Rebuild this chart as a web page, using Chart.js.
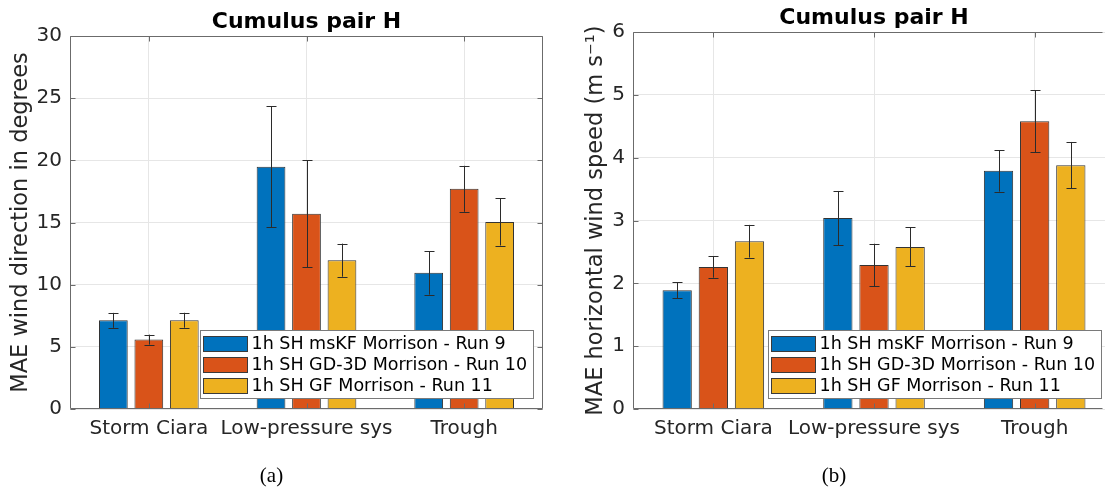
<!DOCTYPE html>
<html>
<head>
<meta charset="utf-8">
<script src="https://cdn.jsdelivr.net/npm/chart.js@4.4.1/dist/chart.umd.min.js"></script>
<style>
html,body{margin:0;padding:0;background:#fff;overflow:hidden;width:1105px;height:491px;}
#wa{position:absolute;left:0;top:0;width:554px;height:491px;}
#wb{position:absolute;left:553px;top:0;width:584px;height:491px;}
</style>
</head>
<body>
<div id="wa"><canvas id="ca"></canvas></div>
<div id="wb"><canvas id="cb"></canvas></div>
<script>
// ---- data ----
const categories = ['Storm Ciara', 'Low-pressure sys', 'Trough'];
const seriesLabels = ['1h SH msKF Morrison - Run 9', '1h SH GD-3D Morrison - Run 10', '1h SH GF Morrison - Run 11'];
const seriesColors = ['#0072BD', '#D95319', '#EDB120'];

// (a) MAE wind direction (degrees)
const dirRun9  = [7.13, 19.48, 10.95];
const dirRun10 = [5.58, 15.70, 17.71];
const dirRun11 = [7.14, 11.97, 15.05];
const dirErr9  = [0.60, 4.85, 1.75];
const dirErr10 = [0.40, 4.30, 1.85];
const dirErr11 = [0.60, 1.33, 1.90];
const dirTicks = [0, 5, 10, 15, 20, 25, 30];

// (b) MAE horizontal wind speed (m s-1)
const spdRun9  = [1.89, 3.04, 3.79];
const spdRun10 = [2.26, 2.29, 4.58];
const spdRun11 = [2.67, 2.58, 3.88];
const spdErr9  = [0.13, 0.43, 0.33];
const spdErr10 = [0.17, 0.34, 0.49];
const spdErr11 = [0.26, 0.31, 0.37];
const spdTicks = [0, 1, 2, 3, 4, 5, 6];

Chart.defaults.font.family = "'DejaVu Sans', sans-serif";

const AXIS_COLOR = '#6b6b6b';
const TEXT_COLOR = '#262626';

const errorBarPlugin = {
  id: 'errorBars',
  afterDatasetsDraw(chart) {
    const ctx = chart.ctx, ys = chart.scales.y;
    chart.data.datasets.forEach((ds, i) => {
      const meta = chart.getDatasetMeta(i);
      meta.data.forEach((bar, j) => {
        const v = ds.data[j], e = ds.errors[j];
        const yt = ys.getPixelForValue(v + e);
        const yb = ys.getPixelForValue(v - e);
        const x = Math.round(bar.x) + 0.5;
        ctx.save();
        ctx.strokeStyle = '#2b2b2b';
        ctx.lineWidth = 1;
        ctx.beginPath();
        ctx.moveTo(x, yt); ctx.lineTo(x, yb);
        ctx.moveTo(x - 5, Math.round(yt) + 0.5); ctx.lineTo(x + 5, Math.round(yt) + 0.5);
        ctx.moveTo(x - 5, Math.round(yb) + 0.5); ctx.lineTo(x + 5, Math.round(yb) + 0.5);
        ctx.stroke();
        ctx.restore();
      });
    });
  }
};

const boxLegendPlugin = {
  id: 'boxLegend',
  afterDatasetsDraw(chart, args, opts) {
    const ctx = chart.ctx, ca = chart.chartArea;
    ctx.save();
    ctx.beginPath();
    ctx.rect(0, 0, opts.clipRight, chart.height);
    ctx.clip();
    ctx.font = "17.5px 'DejaVu Sans', sans-serif";
    const dss = chart.data.datasets;
    let maxW = 0;
    dss.forEach(ds => { maxW = Math.max(maxW, ctx.measureText(ds.label).width); });
    const padL = 3, swW = 44, swH = 15, gap = 4, padR = 6, rowH = 21.3, padV = 2;
    const w = Math.round(padL + swW + gap + maxW + padR);
    const h = Math.round(dss.length * rowH + 2 * padV);
    const right = ca.right - opts.insetRight;
    const bottom = ca.bottom - opts.insetBottom;
    const left = Math.round(right - w) + 0.5;
    const top = Math.round(bottom - h) + 0.5;
    ctx.fillStyle = '#ffffff';
    ctx.fillRect(left, top, w, h);
    ctx.strokeStyle = '#7a7a7a';
    ctx.lineWidth = 1;
    ctx.strokeRect(left, top, w, h);
    dss.forEach((ds, k) => {
      const cy = top + padV + rowH * (k + 0.5);
      const sx = left + padL;
      const sy = Math.round(cy - swH / 2) + 0.5;
      ctx.fillStyle = ds.backgroundColor;
      ctx.fillRect(sx, sy, swW, swH);
      ctx.strokeStyle = '#3a3a3a';
      ctx.strokeRect(sx, sy, swW, swH);
      ctx.fillStyle = '#000000';
      ctx.textBaseline = 'middle';
      ctx.textAlign = 'left';
      ctx.fillText(ds.label, sx + swW + gap, cy + 1);
    });
    ctx.restore();
  }
};

const axesBoxPlugin = {
  id: 'axesBox',
  afterDraw(chart, args, opts) {
    const ctx = chart.ctx, ca = chart.chartArea;
    const ys = chart.scales.y, xs = chart.scales.x;
    const L = Math.round(ca.left) + 0.5, R = Math.round(ca.right) - 0.5;
    const T = Math.round(ca.top) + 0.5, B = Math.round(ca.bottom) - 0.5;
    ctx.save();
    ctx.beginPath();
    ctx.rect(0, 0, opts.clipRight, chart.height);
    ctx.clip();
    ctx.strokeStyle = AXIS_COLOR;
    ctx.lineWidth = 1;
    ctx.beginPath();
    ctx.moveTo(R, T); ctx.lineTo(L, T); ctx.lineTo(L, B); ctx.lineTo(R, B);
    if (opts.rightSide) { ctx.lineTo(R, T); }
    ys.ticks.forEach(t => {
      const y = Math.round(ys.getPixelForValue(t.value)) + 0.5;
      ctx.moveTo(L, y); ctx.lineTo(L + 5, y);
      if (opts.rightSide) { ctx.moveTo(R, y); ctx.lineTo(R - 5, y); }
    });
    xs.ticks.forEach((t, i) => {
      const x = Math.round(xs.getPixelForTick(i)) + 0.5;
      ctx.moveTo(x, B); ctx.lineTo(x, B - 5);
      ctx.moveTo(x, T); ctx.lineTo(x, T + 5);
    });
    ctx.stroke();
    ctx.restore();
  }
};

function makeDatasets(vals, errs) {
  return vals.map((v, i) => ({
    label: seriesLabels[i],
    data: v,
    errors: errs[i],
    backgroundColor: seriesColors[i],
    borderColor: '#333333',
    borderWidth: 1,
    categoryPercentage: 0.675,
    barPercentage: 0.81
  }));
}

function makeChart(id, cfg) {
  return new Chart(document.getElementById(id), {
    type: 'bar',
    data: { labels: categories, datasets: makeDatasets(cfg.vals, cfg.errs) },
    plugins: [errorBarPlugin, boxLegendPlugin, axesBoxPlugin],
    options: {
      responsive: true,
      maintainAspectRatio: false,
      animation: false,
      layout: { padding: { left: 0, right: cfg.padRight, top: 0, bottom: 0 } },
      plugins: {
        legend: { display: false },
        tooltip: { enabled: false },
        title: {
          display: true,
          text: 'Cumulus pair H',
          color: '#000000',
          fullSize: false,
          font: { size: 22, weight: 'bold' },
          padding: { top: cfg.titleTop, bottom: 0.6 }
        },
        subtitle: {
          display: true,
          position: 'bottom',
          text: cfg.caption,
          color: '#000000',
          font: { family: "'Liberation Serif', serif", size: 21 },
          padding: { top: 0, bottom: 2 }
        },
        boxLegend: { insetRight: cfg.legRight, insetBottom: cfg.legBottom, clipRight: cfg.clipRight },
        axesBox: { rightSide: cfg.rightSide, clipRight: cfg.clipRight }
      },
      scales: {
        x: {
          offset: true,
          grid: { offset: false, color: '#e6e6e6', drawTicks: false },
          border: { display: false },
          ticks: { color: TEXT_COLOR, font: { size: 20 }, padding: 8, maxRotation: 0, autoSkip: false },
          afterFit(s) { s.height = 54.8; }
        },
        y: {
          min: cfg.ticks[0],
          max: cfg.ticks[cfg.ticks.length - 1],
          afterBuildTicks(s) { s.ticks = cfg.ticks.map(v => ({ value: v })); },
          grid: { color: '#e6e6e6', drawTicks: false },
          border: { display: false },
          ticks: { color: TEXT_COLOR, font: { size: 20 }, padding: 8 },
          title: {
            display: true,
            text: cfg.yTitle,
            color: TEXT_COLOR,
            font: { size: 22.5 },
            padding: { top: cfg.yTitlePad, bottom: 0 }
          },
          afterFit(s) { s.width = cfg.yWidth; }
        }
      }
    }
  });
}

makeChart('ca', {
  vals: [dirRun9, dirRun10, dirRun11],
  errs: [dirErr9, dirErr10, dirErr11],
  ticks: dirTicks,
  yTitle: 'MAE wind direction in degrees',
  caption: '(a)',
  padRight: 11,
  titleTop: 9,
  yWidth: 70,
  yTitlePad: 7.5,
  legRight: 10.5,
  legBottom: 11,
  rightSide: true,
  clipRight: 554
});

makeChart('cb', {
  vals: [spdRun9, spdRun10, spdRun11],
  errs: [spdErr9, spdErr10, spdErr11],
  ticks: spdTicks,
  yTitle: 'MAE horizontal wind speed (m s\u207B\u00B9)',
  caption: '(b)',
  padRight: 22,
  titleTop: 5,
  yWidth: 80,
  yTitlePad: 30,
  legRight: 14,
  legBottom: 11.5,
  rightSide: false,
  clipRight: 549.5
});
</script>
</body>
</html>
